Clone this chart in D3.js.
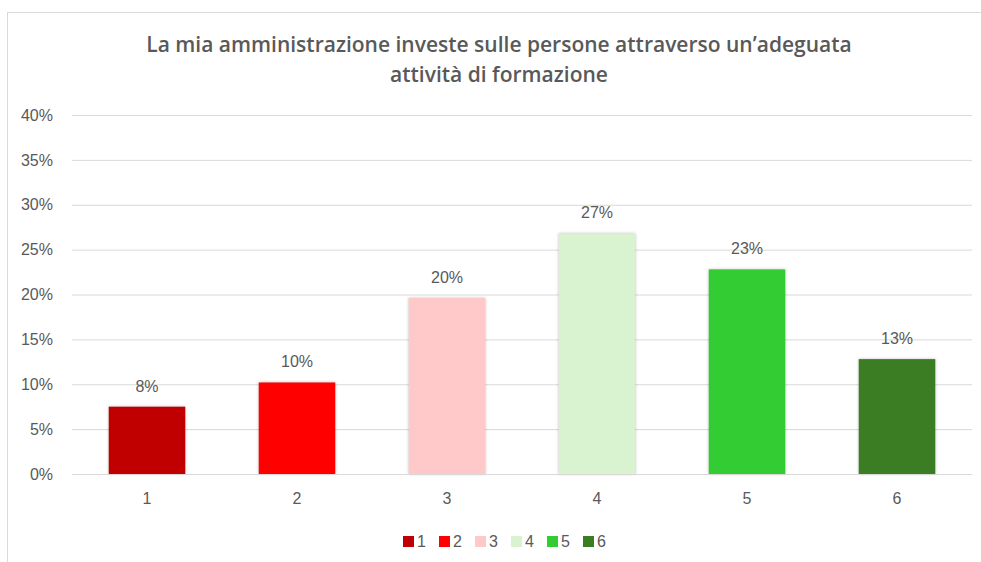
<!DOCTYPE html>
<html>
<head>
<meta charset="utf-8">
<script src="https://cdn.jsdelivr.net/npm/d3@7"></script>
<style>
  body { margin: 0; background: #fff; }
  svg { display: block; }
</style>
</head>
<body>
<div id="chart"></div>
<script>
// data
var categories = ["1", "2", "3", "4", "5", "6"];
var values = [0.075, 0.102, 0.196, 0.268, 0.228, 0.128];
var labels = ["8%", "10%", "20%", "27%", "23%", "13%"];
var colors = ["#C00000", "#FF0000", "#FFC9C9", "#D9F2D0", "#33CC33", "#3A7D22"];
var yTicks = [0, 0.05, 0.10, 0.15, 0.20, 0.25, 0.30, 0.35, 0.40];
var titleLines = ["La mia amministrazione investe sulle persone attraverso un\u2019adeguata", "attivit\u00e0 di formazione"];

var W = 981, H = 562;
var margin = {left: 72, right: 9, top: 115, bottom: 88};
var width = W - margin.left - margin.right;
var height = H - margin.top - margin.bottom;

var labelFont = "'Liberation Sans', Arial, sans-serif";

var svg = d3.select("#chart").append("svg")
    .attr("width", W)
    .attr("height", H);

// chart frame (only top and left edges fall inside the picture)
svg.append("rect")
    .attr("x", 7.5).attr("y", 12.5)
    .attr("width", W + 10).attr("height", H + 10)
    .attr("fill", "#fff")
    .attr("stroke", "#d9d9d9");

// title
svg.selectAll(".title")
    .data(titleLines)
    .enter().append("text")
    .attr("class", "title")
    .attr("x", 499)
    .attr("y", function(d, i) { return 52 + i * 30; })
    .attr("text-anchor", "middle")
    .style("font-family", "'Open Sans', sans-serif")
    .style("font-weight", "600")
    .style("font-size", "21px")
    .style("fill", "#595959")
    .text(function(d) { return d; });

var g = svg.append("g")
    .attr("transform", "translate(" + margin.left + "," + margin.top + ")");

var x = d3.scaleBand()
    .domain(categories)
    .range([0, width])
    .paddingInner(0.49)
    .paddingOuter(0.245);

var y = d3.scaleLinear()
    .domain([0, 0.40])
    .range([height, 0]);

// gridlines + y labels
var yAxis = g.append("g")
    .call(d3.axisLeft(y)
        .tickValues(yTicks)
        .tickSize(-width)
        .tickPadding(19)
        .tickFormat(d3.format(".0%")));
yAxis.select(".domain").remove();
yAxis.selectAll("line").attr("stroke", "#d9d9d9");
yAxis.selectAll("text")
    .style("font-family", labelFont)
    .style("font-size", "16px")
    .style("fill", "#595959");

// bars
g.selectAll(".bar")
    .data(values)
    .enter().append("rect")
    .attr("class", "bar")
    .attr("x", function(d, i) { return x(categories[i]); })
    .attr("y", function(d) { return y(d); })
    .attr("width", x.bandwidth())
    .attr("height", function(d) { return height - y(d); })
    .attr("fill", function(d, i) { return colors[i]; })
    .style("filter", "drop-shadow(0px 0px 1.5px rgba(0,0,0,0.25))");

// value labels
g.selectAll(".valueLabel")
    .data(values)
    .enter().append("text")
    .attr("class", "valueLabel")
    .attr("x", function(d, i) { return x(categories[i]) + x.bandwidth() / 2; })
    .attr("y", function(d) { return y(d) - 15; })
    .attr("text-anchor", "middle")
    .style("font-family", labelFont)
    .style("font-size", "16px")
    .style("fill", "#595959")
    .text(function(d, i) { return labels[i]; });

// x axis baseline + labels
var xAxis = g.append("g")
    .attr("transform", "translate(0," + height + ")")
    .call(d3.axisBottom(x).tickSize(0).tickPadding(19));
xAxis.select(".domain").attr("stroke", "#d9d9d9");
xAxis.selectAll("text")
    .style("font-family", labelFont)
    .style("font-size", "16px")
    .style("fill", "#595959");

// legend
var legend = svg.append("g")
    .attr("transform", "translate(403,536)");
var item = legend.selectAll(".legendItem")
    .data(categories)
    .enter().append("g")
    .attr("class", "legendItem")
    .attr("transform", function(d, i) { return "translate(" + (i * 36) + ",0)"; });
item.append("rect")
    .attr("width", 11).attr("height", 11)
    .attr("fill", function(d, i) { return colors[i]; });
item.append("text")
    .attr("x", 14).attr("y", 11)
    .style("font-family", labelFont)
    .style("font-size", "16px")
    .style("fill", "#595959")
    .text(function(d) { return d; });
</script>
</body>
</html>
